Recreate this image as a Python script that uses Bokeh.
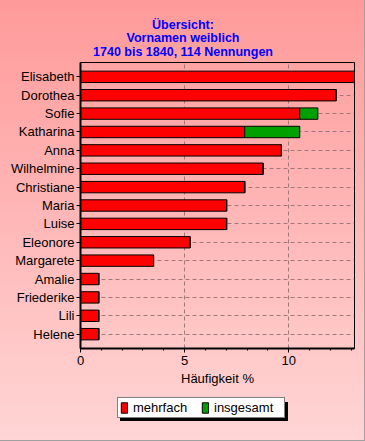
from bokeh.plotting import figure
from bokeh.layouts import column
from bokeh.models import (FactorRange, Range1d, Label, Legend, LegendItem,
                          SingleIntervalTicker, ColumnDataSource)
from bokeh.embed import file_html
from bokeh.resources import INLINE

# ---- data (percent of 114 mentions) ----
names = ["Elisabeth", "Dorothea", "Sofie", "Katharina", "Anna", "Wilhelmine",
         "Christiane", "Maria", "Luise", "Eleonore", "Margarete", "Amalie",
         "Friederike", "Lili", "Helene"]
mehrfach = [13.16, 12.28, 10.53, 7.89, 9.65, 8.77, 7.89, 7.02, 7.02, 5.26,
            3.51, 0.88, 0.88, 0.88, 0.88]
insgesamt = [13.16, 12.28, 11.40, 10.53, 9.65, 8.77, 7.89, 7.02, 7.02, 5.26,
             3.51, 0.88, 0.88, 0.88, 0.88]
title_lines = ["Übersicht:", "Vornamen weiblich", "1740 bis 1840, 114 Nennungen"]
x_label = "Häufigkeit %"
series_labels = ["mehrfach", "insgesamt"]
colors = ["#ff0000", "#00a000"]

FONT = "Liberation Sans"
W = 365
FRAME_LEFT = 80   # frames of the stacked figures are aligned on this edge


def blank(fig):
    fig.border_fill_alpha = 0
    fig.background_fill_alpha = 0
    fig.outline_line_color = None
    fig.min_border = 0
    fig.min_border_left = FRAME_LEFT
    fig.min_border_right = 11
    return fig


# ---------------- title figure ----------------
pt = blank(figure(width=W, height=60, x_range=Range1d(0, 1), y_range=Range1d(0, 1),
                  output_backend="svg", toolbar_location=None,
                  x_axis_location=None, y_axis_location=None))
pt.grid.visible = False
for txt, yy in zip(title_lines, [36, 23, 9]):
    pt.add_layout(Label(x=W / 2 - FRAME_LEFT, y=yy, x_units="screen", y_units="screen",
                        text=txt, text_align="center", text_baseline="middle",
                        text_font=FONT, text_font_size="12.5px",
                        text_font_style="bold", text_color="#0000ff"))

# ---------------- main chart ----------------
rest = [round(t - m, 2) for t, m in zip(insgesamt, mehrfach)]
source = ColumnDataSource(dict(name=names, mehrfach=mehrfach, rest=rest))

p = figure(width=W, height=330,
           y_range=FactorRange(factors=names[::-1], range_padding=0.28,
                               range_padding_units="absolute"),
           x_range=Range1d(0, max(insgesamt)),
           output_backend="svg", toolbar_location=None)
p.border_fill_alpha = 0
p.background_fill_alpha = 0
p.min_border_left = FRAME_LEFT
p.min_border_right = 11
p.min_border_top = 2
p.min_border_bottom = 42
p.outline_line_color = "black"
p.outline_line_width = 1

renderers = p.hbar_stack(["mehrfach", "rest"], y="name", height=0.62,
                         fill_color=colors, line_color="black", line_width=1,
                         source=source)

ticker = SingleIntervalTicker(interval=5, num_minor_ticks=5)
xa = p.xaxis[0]
xa.ticker = ticker
xa.axis_label = x_label
xa.axis_label_text_font = FONT
xa.axis_label_text_font_size = "13px"
xa.axis_label_text_font_style = "normal"
xa.axis_label_text_color = "black"
xa.axis_label_standoff = 3
xa.major_label_text_font = FONT
xa.major_label_text_font_size = "13px"
xa.major_label_text_color = "black"
xa.major_label_standoff = 3
xa.axis_line_width = 2
xa.axis_line_color = "black"
xa.major_tick_out = 4
xa.major_tick_in = 0
xa.minor_tick_out = 2
xa.minor_tick_in = 0
xa.major_tick_line_color = "black"
xa.minor_tick_line_color = "black"

ya = p.yaxis[0]
ya.major_label_text_font = FONT
ya.major_label_text_font_size = "13px"
ya.major_label_text_color = "black"
ya.major_label_standoff = 2
ya.axis_line_width = 2
ya.axis_line_color = "black"
ya.major_tick_out = 4
ya.major_tick_in = 0
ya.major_tick_line_color = "black"

p.xgrid.grid_line_color = "#a07878"
p.xgrid.grid_line_dash = "4 3"
p.ygrid.grid_line_color = "#a07878"
p.ygrid.grid_line_dash = "4 3"

# ---------------- legend strip ----------------
pl = blank(figure(width=W, height=51, x_range=Range1d(0, 1), y_range=Range1d(0, 1),
                  output_backend="svg", toolbar_location=None,
                  x_axis_location=None, y_axis_location=None))
pl.grid.visible = False
# proxy renderers (kept outside the visible range) that only feed the legend
leg_src = ColumnDataSource(dict(y=[-5], right=[-5]))
leg_r = [pl.hbar(y="y", right="right", left=-6, height=0.5, fill_color=c,
                 line_color="black", line_width=1, source=leg_src)
         for c in colors]


def make_legend(loc, labels, shadow=False):
    items = [LegendItem(label=lab, renderers=[r])
             for lab, r in zip(labels, leg_r)]
    lg = Legend(items=items, location=loc, orientation="horizontal",
                padding=2, spacing=0, margin=0, label_standoff=5,
                glyph_width=8, glyph_height=13, label_height=12, label_width=68,
                label_text_font=FONT, label_text_font_size="13px",
                border_line_color="black", border_line_width=1,
                background_fill_alpha=1, label_text_color="black")
    lg.background_fill_color = "black" if shadow else "white"
    return lg


# drop shadow: an identical, black box (no label text) offset by 3px
pl.add_layout(make_legend((117 - FRAME_LEFT + 3, 20), [" ", " "], shadow=True))
pl.add_layout(make_legend((117 - FRAME_LEFT, 23), series_labels))

layout = column(pt, p, pl, spacing=0,
                styles={"background": "linear-gradient(to bottom, #ff9a9a, #ffd5d5)",
                        "box-shadow": "inset -1px -1px 0 #a0a0a0"})

open("out.html", "w").write(file_html(layout, INLINE))
